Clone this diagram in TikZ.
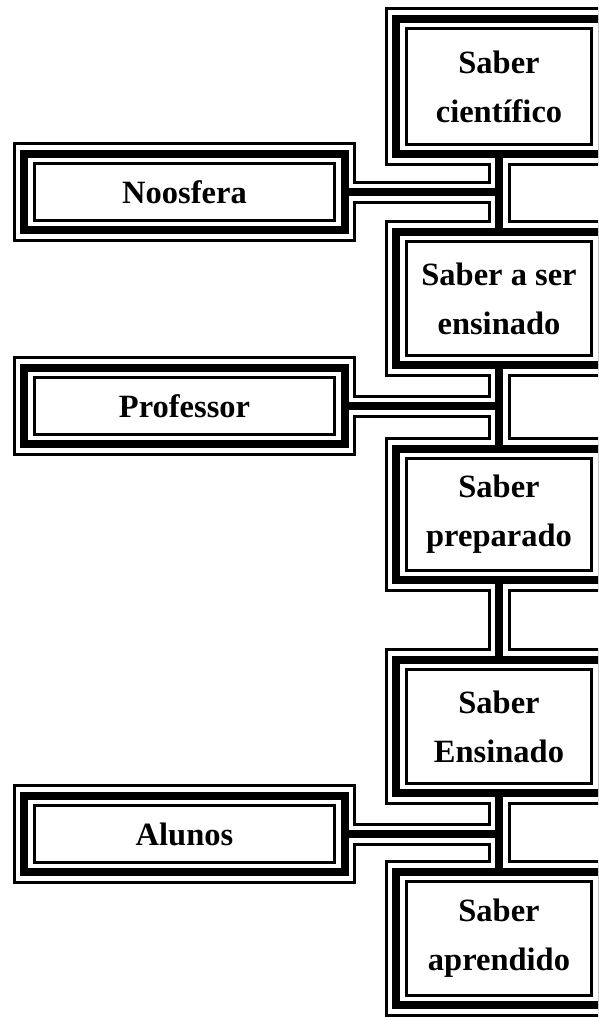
\documentclass[tikz,border=0pt]{standalone}
\usepackage{fontspec}
\setmainfont{Liberation Serif}
\newcommand\drawall[1]{%
  \foreach \n in {b1,b2,b3,b4,b5,noos,prof,alun}{\draw[#1] (\n.north west) rectangle (\n.south east);}
  \draw[#1] (b1.south) -- (b2.north);
  \draw[#1] (b2.south) -- (b3.north);
  \draw[#1] (b3.south) -- (b4.north);
  \draw[#1] (b4.south) -- (b5.north);
  \draw[#1] (noos.east) -- (noos.east -| b1.south);
  \draw[#1] (prof.east) -- (prof.east -| b1.south);
  \draw[#1] (alun.east) -- (alun.east -| b1.south);
}
\begin{document}
\begin{tikzpicture}[x=1pt,y=-1pt,
  txt/.style={inner sep=0pt, align=center, font=\fontsize{32.5}{49}\selectfont\bfseries},
  rbox/.style={txt, minimum width=205pt},
  lbox/.style={txt, minimum width=320pt, minimum height=76.5pt},
  lA/.style={line width=23pt, black},
  lB/.style={line width=17pt, white},
  lC/.style={line width=8pt, black}]
\useasboundingbox (0,0) rectangle (598,1017);
\clip (0,0) rectangle (598,1017);
\node[rbox, minimum height=135pt] (b1) at (499,86.5) {Saber\\científico};
\node[rbox, minimum height=133pt] (b2) at (499,298.5) {Saber a ser\\ensinado};
\node[rbox, minimum height=131pt] (b3) at (499,514.5) {Saber\\preparado};
\node[rbox, minimum height=133pt] (b4) at (499,726.5) {Saber\\Ensinado};
\node[rbox, minimum height=133pt] (b5) at (499,938.5) {Saber\\aprendido};
\node[lbox] (noos) at (184.5,192) {Noosfera};
\node[lbox] (prof) at (184.5,406) {Professor};
\node[lbox] (alun) at (184.5,834) {Alunos};
\drawall{lA}
\drawall{lB}
\drawall{lC}
\end{tikzpicture}
\end{document}
